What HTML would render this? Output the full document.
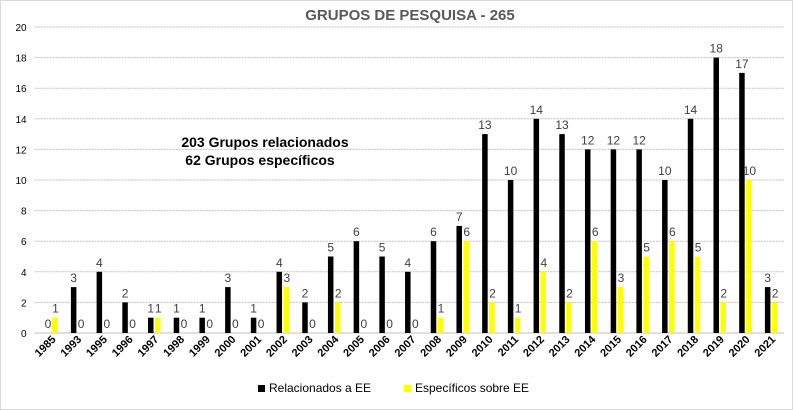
<!DOCTYPE html>
<html><head><meta charset="utf-8"><style>
body{margin:0;background:#fff;font-family:"Liberation Sans",sans-serif}
#c{position:absolute;left:0;top:0;width:793px;height:410px}
</style></head><body>
<svg id="c" width="793" height="410">
<rect x="0.5" y="0.5" width="792" height="409" fill="#fff" stroke="#d9d9d9"/>
<text x="410" y="20" text-anchor="middle" font-size="15" font-weight="bold" fill="#595959">GRUPOS DE PESQUISA - 265</text>
<text x="265" y="147" text-anchor="middle" font-size="14" font-weight="bold" fill="#000">203 Grupos relacionados</text>
<text x="260" y="165" text-anchor="middle" font-size="14" font-weight="bold" fill="#000">62 Grupos específicos</text>
<g id="grid"></g><g id="bars"></g><g id="axes"></g>
<rect x="258" y="385" width="7" height="7" fill="#000"/>
<text x="269" y="392" font-size="12" fill="#000">Relacionados a EE</text>
<rect x="404" y="385" width="7" height="7" fill="#ffff00"/>
<text x="415" y="392" font-size="12" fill="#000">Específicos sobre EE</text>
</svg>
<script>
const categories=["1985","1993","1995","1996","1997","1998","1999","2000","2001","2002","2003","2004","2005","2006","2007","2008","2009","2010","2011","2012","2013","2014","2015","2016","2017","2018","2019","2020","2021"];
const relacionados=[0,3,4,2,1,1,1,3,1,4,2,5,6,5,4,6,7,13,10,14,13,12,12,12,10,14,18,17,3];
const especificos=[1,0,0,0,1,0,0,0,0,3,0,2,0,0,0,1,6,2,1,4,2,6,3,5,6,5,2,10,2];
const yTicks=[0,2,4,6,8,10,12,14,16,18,20];
const NS="http://www.w3.org/2000/svg";
const L=38.6,R=784,Y0=333,Y20=27;
const step=(R-L)/categories.length;
const y=v=>Y0-(v/20)*(Y0-Y20);
const xc=i=>L+step*(i+0.5);
function mk(t,a,p){const e=document.createElementNS(NS,t);for(const k in a)e.setAttribute(k,a[k]);p.appendChild(e);return e;}
const grid=document.getElementById('grid'),bars=document.getElementById('bars'),axes=document.getElementById('axes');
yTicks.forEach(v=>{
 const l=mk('line',{x1:L-4,x2:R,y1:y(v),y2:y(v),stroke:'#bfbfbf','stroke-dasharray':v===0?'':'2,1'},grid);
 
 
 const t=mk('text',{x:L-12,y:y(v)+4,'text-anchor':'end','font-size':10,fill:'#000'},axes);
 t.textContent=v;
 
 
});
categories.forEach((c,i)=>{
 const cx=xc(i),bw=5.5;
 const b1=mk('rect',{x:cx-3.5-bw/2,y:y(relacionados[i]),width:bw,height:Y0-y(relacionados[i]),fill:'#000'},bars);
 
 
 const b2=mk('rect',{x:cx+3.5-bw/2,y:y(especificos[i]),width:bw,height:Y0-y(especificos[i]),fill:'#ffff00'},bars);
 
 
 const t1=mk('text',{x:cx-3.5,y:y(relacionados[i])-5,'text-anchor':'middle','font-size':12,fill:'#404040'},bars);
 t1.textContent=relacionados[i];
 
 
 const t2=mk('text',{x:cx+4,y:y(especificos[i])-5,'text-anchor':'middle','font-size':12,fill:'#404040'},bars);
 t2.textContent=especificos[i];
 
 
 const xl=mk('text',{x:cx+5,y:340,'text-anchor':'end','font-size':11,'font-weight':'bold',fill:'#000',transform:`rotate(-45 ${cx+5} 340)`},axes);
 xl.textContent=c;
 
 
});
</script>
</body></html>
